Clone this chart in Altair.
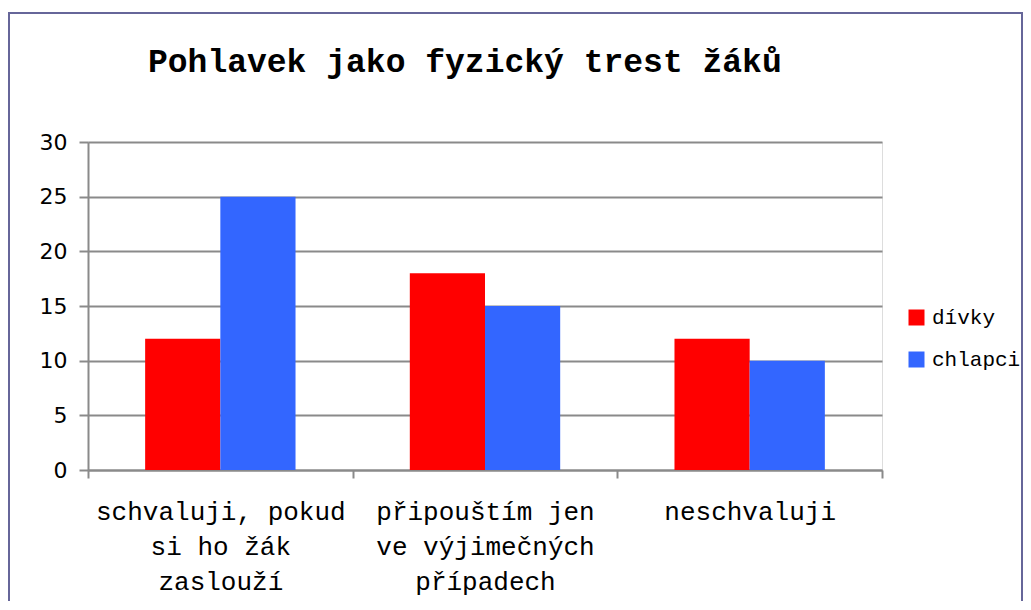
import altair as alt
import pandas as pd

categories = [
    "schvaluji, pokud\nsi ho žák\nzaslouží",
    "připouštím jen\nve výjimečných\npřípadech",
    "neschvaluji",
]
series = ["dívky", "chlapci"]
divky = [12, 18, 12]
chlapci = [25, 15, 10]
y_ticks = [0, 5, 10, 15, 20, 25, 30]
colors = ["#FF0000", "#3366FF"]

rows = []
for c, d, ch in zip(categories, divky, chlapci):
    rows.append({"kategorie": c, "skupina": series[0], "hodnota": d})
    rows.append({"kategorie": c, "skupina": series[1], "hodnota": ch})
df = pd.DataFrame(rows)

GRID = "#8a8a8a"

bars = alt.Chart(df).mark_bar().encode(
    x=alt.X(
        "kategorie:N",
        sort=categories,
        scale=alt.Scale(paddingInner=0, paddingOuter=0),
        axis=alt.Axis(
            title=None,
            labelAngle=0,
            labelExpr="split(datum.label, '\\n')",
            labelFont="Liberation Mono",
            labelFontSize=26,
            labelColor="black",
            labelLineHeight=35,
            labelPadding=20,
            labelBaseline="top",
            labelLimit=0,
            tickBand="extent",
            tickSize=8,
            tickColor=GRID,
            tickWidth=2,
            domainColor=GRID,
            domainWidth=2,
            grid=False,
        ),
    ),
    xOffset=alt.XOffset(
        "skupina:N",
        sort=series,
        scale=alt.Scale(paddingInner=0, paddingOuter=0.76),
    ),
    y=alt.Y(
        "hodnota:Q",
        scale=alt.Scale(domain=[0, 30]),
        axis=alt.Axis(
            title=None,
            values=y_ticks,
            labelFont="DejaVu Sans",
            labelFontSize=22,
            labelColor="black",
            labelPadding=12,
            tickSize=9,
            tickColor=GRID,
            tickWidth=2,
            domainColor=GRID,
            domainWidth=2,
            gridColor=GRID,
            gridWidth=2,
            gridOpacity=1,
        ),
    ),
    color=alt.Color(
        "skupina:N",
        sort=series,
        scale=alt.Scale(domain=series, range=colors),
        legend=alt.Legend(
            title=None,
            orient="none",
            legendX=818,
            legendY=165,
            symbolType="square",
            symbolSize=256,
            symbolStrokeWidth=0,
            symbolOpacity=1,
            labelFont="Liberation Mono",
            labelFontSize=21,
            labelColor="black",
            labelOffset=5,
            labelLimit=0,
            rowPadding=20,
        ),
    ),
)

border = alt.Chart(pd.DataFrame({"a": [0]})).mark_rect(
    filled=False, stroke="#666699", strokeWidth=2, clip=False
).encode(
    x=alt.value(-79),
    x2=alt.value(934),
    y=alt.value(-129),
    y2=alt.value(600),
)

chart = alt.layer(border, bars).properties(
    width=794,
    height=328,
    title=alt.Title(
        "Pohlavek jako fyzický trest žáků",
        anchor="start",
        frame="group",
        dx=60,
        font="Liberation Mono",
        fontSize=33,
        fontWeight="bold",
        color="black",
        baseline="alphabetic",
        offset=-93,
    ),
    padding={"left": 80, "top": 134, "right": 141, "bottom": 131},
    autosize=alt.AutoSizeParams(type="none"),
).configure_view(strokeWidth=0).configure(background="white")

chart.save("out.html", embed_options={"renderer": "svg", "actions": False})
